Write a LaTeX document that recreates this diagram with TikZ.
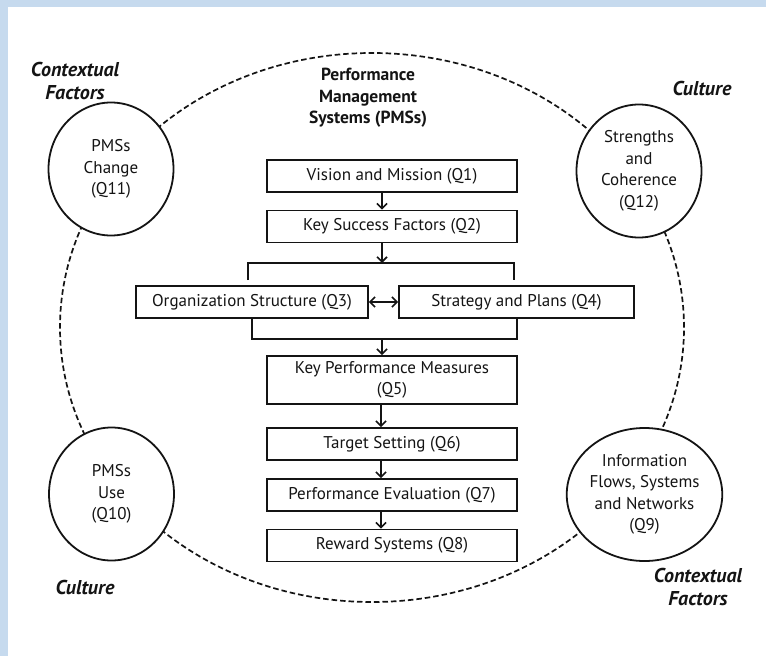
\documentclass[tikz,border=0pt]{standalone}
\usepackage{fontspec}
\setmainfont{PT Sans}
\usetikzlibrary{arrows.meta,shapes.geometric}
\definecolor{bandblue}{RGB}{198,218,238}
\definecolor{ink}{RGB}{20,20,20}
\begin{document}
\begin{tikzpicture}[x=1pt,y=-1pt,
  every node/.style={text=ink},
  body/.style={font=\fontsize{17}{21.5}\selectfont},
  stepbox/.style={draw=ink,line width=1.8pt,fill=white,rectangle,body,
    minimum width=250pt,minimum height=32pt,inner sep=0pt,align=center},
  bubble/.style={draw=ink,line width=1.8pt,fill=white,ellipse,body,
    minimum width=125pt,minimum height=133pt,inner sep=0pt,align=center},
  factor/.style={font=\fontsize{20}{23}\selectfont\bfseries\itshape,align=center},
  tip/.tip={Straight Barb[length=5pt,width=10pt,line width=1.6pt]},
  arr/.style={draw=ink,line width=1.8pt,-tip},
  link/.style={draw=ink,line width=1.8pt},
  frame/.style={draw=ink,line width=1.7pt,dash pattern=on 5.5pt off 3pt}]
% page and side bands
\fill[white] (0,0) rectangle (766,656);
\fill[bandblue] (0,0) rectangle (766,7);
\fill[bandblue] (0,0) rectangle (8,656);
\useasboundingbox (0,0) rectangle (766,656);

% outer dashed boundary
\draw[frame] (372,327.5) ellipse [x radius=312pt, y radius=274.5pt];

% surrounding bubbles
\node[bubble] (q11) at (111,169) {PMSs\\Change\\(Q11)};
\node[bubble] (q12) at (639,171) {Strengths\\and\\Coherence\\(Q12)};
\node[bubble] (q10) at (111.5,494) {PMSs\\Use\\(Q10)};
\node[bubble] (q9)  at (644.5,494.5) {Information\\Flows, Systems\\and Networks\\(Q9)};

% corner labels
\node[factor] (cf1) at (75,81) {Contextual\\Factors};
\node[factor] (cu1) at (702,88) {Culture};
\node[factor] (cu2) at (85,587) {Culture};
\node[factor] (cf2) at (698,587) {Contextual\\Factors};

\node[font=\fontsize{17.5}{21.5}\selectfont\bfseries,align=center] (title) at (368,98)
  {Performance\\Management\\Systems (PMSs)};

% central chain
\node[stepbox] (q1) at (392,176) {Vision and Mission (Q1)};
\node[stepbox] (q2) at (392,226.5) {Key Success Factors (Q2)};
\node[stepbox,minimum width=232pt] (q3) at (252,302) {Organization Structure (Q3)};
\node[stepbox,minimum width=235pt] (q4) at (516.5,302) {Strategy and Plans (Q4)};
\node[stepbox,minimum height=48pt] (q5) at (392,380) {Key Performance Measures\\(Q5)};
\node[stepbox] (q6) at (392,444) {Target Setting (Q6)};
\node[stepbox] (q7) at (392,495) {Performance Evaluation (Q7)};
\node[stepbox] (q8) at (392,545.5) {Reward Systems (Q8)};

% bracket above Q3/Q4
\coordinate (split) at (382,263);
\coordinate (splitL) at (248,280);
\coordinate (splitR) at (514,280);
\draw[arr] ([xshift=-10pt]q1.south) -- ([xshift=-10pt]q2.north);
\draw[arr] ([xshift=-10pt]q2.south) -- (split);
\draw[link] (splitL) |- (split) -| (splitR);

% bracket below Q3/Q4
\coordinate (merge) at (382,339);
\draw[link] (q3.south) |- (merge) -| ([xshift=0.5pt]q4.south);
\draw[arr] (merge) -- ([xshift=-10pt]q5.north);
\draw[arr,tip-tip] (q3.east) -- (q4.west);

\draw[arr] ([xshift=-11pt]q5.south) -- ([xshift=-11pt]q6.north);
\draw[arr] ([xshift=-11pt]q6.south) -- ([xshift=-11pt]q7.north);
\draw[arr] ([xshift=-11pt]q7.south) -- ([xshift=-11pt]q8.north);
\end{tikzpicture}
\end{document}
